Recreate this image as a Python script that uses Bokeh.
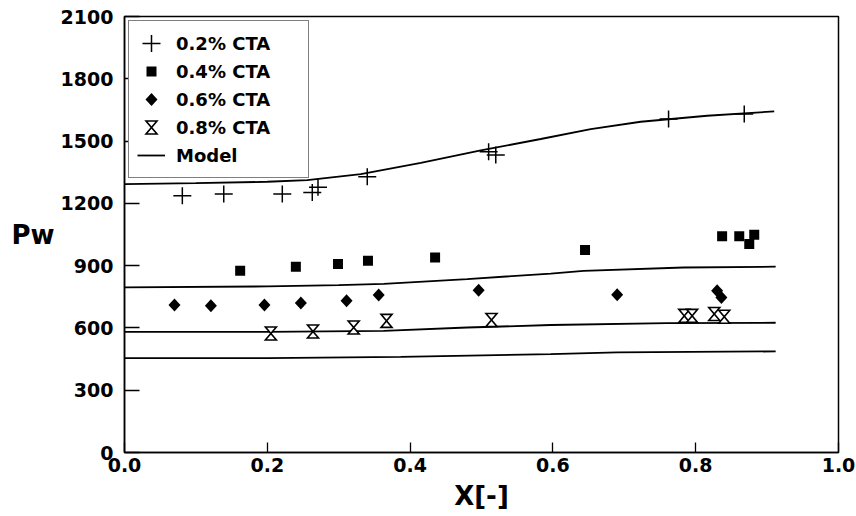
from bokeh.embed import file_html
from bokeh.models import CustomJS, FixedTicker, Legend, LegendItem, PrintfTickFormatter, Scatter
from bokeh.plotting import figure
from bokeh.resources import INLINE

# ---- measured data -------------------------------------------------------
cta02_x = [0.081, 0.139, 0.221, 0.263, 0.271, 0.340, 0.510, 0.520, 0.762, 0.868]
cta02_y = [1237, 1245, 1245, 1252, 1277, 1328, 1449, 1433, 1606, 1630]

cta04_x = [0.162, 0.240, 0.299, 0.341, 0.435, 0.645, 0.837, 0.861, 0.875, 0.882]
cta04_y = [875, 895, 908, 923, 939, 975, 1042, 1042, 1004, 1049]

cta06_x = [0.070, 0.121, 0.196, 0.247, 0.311, 0.356, 0.496, 0.690, 0.830, 0.836]
cta06_y = [710, 707, 710, 720, 731, 758, 782, 760, 779, 747]

cta08_x = [0.205, 0.264, 0.321, 0.367, 0.514, 0.784, 0.795, 0.826, 0.840]
cta08_y = [573, 583, 602, 634, 638, 658, 658, 667, 654]

# model curves, one per concentration
model02_x = [0.0, 0.1, 0.2, 0.256, 0.331, 0.415, 0.499, 0.583, 0.653, 0.723, 0.816, 0.910]
model02_y = [1293, 1297, 1304, 1312, 1341, 1395, 1455, 1510, 1558, 1593, 1622, 1643]
model04_x = [0.0, 0.2, 0.3, 0.363, 0.48, 0.597, 0.643, 0.783, 0.912]
model04_y = [795, 800, 806, 812, 835, 862, 875, 891, 895]
model06_x = [0.0, 0.2, 0.363, 0.48, 0.597, 0.76, 0.912]
model06_y = [581, 581, 586, 602, 614, 623, 625]
model08_x = [0.0, 0.2, 0.387, 0.597, 0.69, 0.912]
model08_y = [455, 455, 461, 474, 482, 487]

x_ticks = [0.0, 0.2, 0.4, 0.6, 0.8, 1.0]
y_ticks = [0, 300, 600, 900, 1200, 1500, 1800, 2100]

series_labels = ["0.2% CTA", "0.4% CTA", "0.6% CTA", "0.8% CTA", "Model"]

FONT = "DejaVu Sans"

p = figure(
    width=856, height=516,
    x_range=(0, 1), y_range=(0, 2100),
    output_backend="svg", toolbar_location=None,
    min_border_left=124, min_border_right=18,
    min_border_top=16, min_border_bottom=64,
    background_fill_color="white", border_fill_color="white",
)
p.grid.visible = False
p.outline_line_color = "black"
p.outline_line_width = 1.5

# axes
for ax in (p.xaxis[0], p.yaxis[0]):
    ax.axis_line_width = 1.5
    ax.axis_line_color = "black"
    ax.major_tick_line_color = "black"
    ax.major_tick_line_width = 1.3
    ax.major_tick_out = 0
    ax.minor_tick_line_color = None
    ax.major_label_text_font = FONT
    ax.major_label_text_font_style = "bold"
    ax.major_label_text_font_size = "19px"
    ax.major_label_text_color = "black"
    ax.axis_label_text_font = FONT
    ax.axis_label_text_font_style = "bold"
    ax.axis_label_text_color = "black"

p.xaxis.ticker = FixedTicker(ticks=x_ticks)
p.xaxis.formatter = PrintfTickFormatter(format="%.1f")
p.xaxis.major_tick_in = 10
p.xaxis.major_label_standoff = 5
p.xaxis.axis_label = "X[-]"
p.xaxis.axis_label_text_font_size = "26px"
p.xaxis.axis_label_standoff = 6

p.yaxis.ticker = FixedTicker(ticks=y_ticks)
p.yaxis.major_tick_in = 15
p.yaxis.major_label_standoff = 11
p.yaxis.axis_label = "Pw"
p.yaxis.axis_label_orientation = "horizontal"
p.yaxis.axis_label_text_font_size = "26px"
p.yaxis.axis_label_standoff = 3

# model curves
line_kw = dict(line_color="black", line_width=1.8)
m1 = p.line(model02_x, model02_y, **line_kw)
p.line(model04_x, model04_y, **line_kw)
p.line(model06_x, model06_y, **line_kw)
p.line(model08_x, model08_y, **line_kw)


# custom marker painters (fixed pixel size, so legend glyphs match the plot)
def painter(body):
    return """
let ctx = null;
for (const a of arguments) {
  if (a == null) continue;
  if (typeof a.moveTo === "function" && typeof a.stroke === "function") ctx = a;
  else if (typeof a === "object" && a.ctx != null && typeof a.ctx.moveTo === "function") ctx = a.ctx;
}
if (ctx != null) {
  ctx.beginPath();
%s
}
""" % body


CROSS_JS = painter("""
  ctx.moveTo(0, -8.5); ctx.lineTo(0, 8.5);
  ctx.moveTo(-9, 0); ctx.lineTo(9, 0);
  ctx.lineWidth = 1.5; ctx.strokeStyle = "black"; ctx.stroke();
""")

SQUARE_JS = painter("""
  ctx.rect(-5, -5, 10, 10);
  ctx.fillStyle = "black"; ctx.fill();
""")

DIAMOND_JS = painter("""
  ctx.moveTo(0, -6.5); ctx.lineTo(6, 0); ctx.lineTo(0, 6.5); ctx.lineTo(-6, 0); ctx.closePath();
  ctx.fillStyle = "black"; ctx.fill();
""")

HOURGLASS_JS = painter("""
  ctx.moveTo(-5.5, -6.5); ctx.lineTo(5.5, -6.5); ctx.lineTo(-5.5, 6.5); ctx.lineTo(5.5, 6.5); ctx.closePath();
  ctx.fillStyle = "white"; ctx.fill();
  ctx.lineWidth = 1.6; ctx.strokeStyle = "black"; ctx.lineJoin = "miter"; ctx.stroke();
""")

HAS_DEFS = "defs" in Scatter.properties()


def custom_scatter(xs, ys, name, code, fallback):
    if HAS_DEFS:
        try:
            return p.scatter(xs, ys, marker=name, size=12, line_color="black", fill_color="black",
                             defs={name: CustomJS(code=code)})
        except Exception:
            pass
    return p.scatter(xs, ys, **fallback)


# measured points
r02 = custom_scatter(cta02_x, cta02_y, "@plus", CROSS_JS,
                     dict(marker="cross", size=17, line_color="black", line_width=1.5))
r04 = custom_scatter(cta04_x, cta04_y, "@square", SQUARE_JS,
                     dict(marker="square", size=10, fill_color="black", line_color="black"))
r06 = custom_scatter(cta06_x, cta06_y, "@diamond", DIAMOND_JS,
                     dict(marker="diamond", size=14, fill_color="black", line_color="black"))
r08 = custom_scatter(cta08_x, cta08_y, "@hourglass", HOURGLASS_JS,
                     dict(marker="square_x", size=11, line_color="black", fill_color="white", line_width=1.5))

legend = Legend(
    items=[
        LegendItem(label=series_labels[0], renderers=[r02]),
        LegendItem(label=series_labels[1], renderers=[r04]),
        LegendItem(label=series_labels[2], renderers=[r06]),
        LegendItem(label=series_labels[3], renderers=[r08]),
        LegendItem(label=series_labels[4], renderers=[m1]),
    ],
    location="top_left",
    margin=4,
    padding=8,
    spacing=0,
    glyph_width=28,
    glyph_height=28,
    label_height=28,
    label_width=124,
    label_standoff=11,
    label_text_font=FONT,
    label_text_font_style="bold",
    label_text_font_size="18px",
    label_text_color="black",
    border_line_color="black",
    border_line_width=1.5,
    background_fill_color="white",
    background_fill_alpha=1.0,
)
p.add_layout(legend)

open("out.html", "w").write(file_html(p, INLINE))
